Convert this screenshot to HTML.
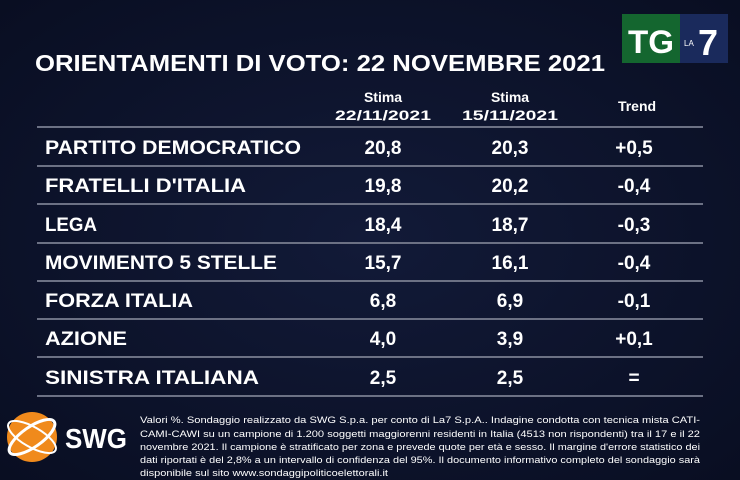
<!DOCTYPE html>
<html><head><meta charset="utf-8"><style>
html,body{margin:0;padding:0;background:#0b1128;}
svg{display:block}
text{font-family:"Liberation Sans",sans-serif;fill:#fff;}
</style></head><body>
<svg width="740" height="480" viewBox="0 0 740 480">
<defs><radialGradient id="bg" cx="0.5" cy="0.5" r="0.7"><stop offset="0" stop-color="#121a38"/><stop offset="1" stop-color="#090e22"/></radialGradient></defs>
<rect width="740" height="480" fill="url(#bg)"/>
<rect x="622" y="14" width="58" height="49" fill="#14662f"/>
<rect x="680" y="14" width="48" height="49" fill="#1a2a5c"/>
<text x="651" y="53" font-size="32" font-weight="bold" text-anchor="middle" textLength="46" lengthAdjust="spacingAndGlyphs">TG</text>
<text x="684" y="46" font-size="8">LA</text>
<text x="708" y="55" font-size="36" font-weight="bold" text-anchor="middle">7</text>
<text x="35" y="71" font-size="23" font-weight="bold" textLength="570" lengthAdjust="spacingAndGlyphs">ORIENTAMENTI DI VOTO: 22 NOVEMBRE 2021</text>
<g font-size="14" font-weight="bold" text-anchor="middle">
<text x="383" y="102">Stima</text><text x="383" y="120" textLength="96" lengthAdjust="spacingAndGlyphs">22/11/2021</text>
<text x="510" y="102">Stima</text><text x="510" y="120" textLength="96" lengthAdjust="spacingAndGlyphs">15/11/2021</text>
<text x="637" y="111">Trend</text>
</g>
<g stroke="#6c7184" stroke-width="2">
<line x1="37" y1="127" x2="703" y2="127"/>
<line x1="37" y1="166" x2="703" y2="166"/>
<line x1="37" y1="204" x2="703" y2="204"/>
<line x1="37" y1="243" x2="703" y2="243"/>
<line x1="37" y1="281" x2="703" y2="281"/>
<line x1="37" y1="319" x2="703" y2="319"/>
<line x1="37" y1="357" x2="703" y2="357"/>
<line x1="37" y1="396" x2="703" y2="396"/>
</g>
<g font-size="19" font-weight="bold">
<text x="45" y="154" textLength="256" lengthAdjust="spacingAndGlyphs">PARTITO DEMOCRATICO</text>
<text x="45" y="192" textLength="201" lengthAdjust="spacingAndGlyphs">FRATELLI D'ITALIA</text>
<text x="45" y="231" textLength="52" lengthAdjust="spacingAndGlyphs">LEGA</text>
<text x="45" y="269" textLength="232" lengthAdjust="spacingAndGlyphs">MOVIMENTO 5 STELLE</text>
<text x="45" y="307" textLength="148" lengthAdjust="spacingAndGlyphs">FORZA ITALIA</text>
<text x="45" y="345" textLength="82" lengthAdjust="spacingAndGlyphs">AZIONE</text>
<text x="45" y="384" textLength="214" lengthAdjust="spacingAndGlyphs">SINISTRA ITALIANA</text>
</g>
<g font-size="19" font-weight="bold" text-anchor="middle">
<text x="383" y="154">20,8</text><text x="510" y="154">20,3</text><text x="634" y="154">+0,5</text>
<text x="383" y="192">19,8</text><text x="510" y="192">20,2</text><text x="634" y="192">-0,4</text>
<text x="383" y="231">18,4</text><text x="510" y="231">18,7</text><text x="634" y="231">-0,3</text>
<text x="383" y="269">15,7</text><text x="510" y="269">16,1</text><text x="634" y="269">-0,4</text>
<text x="383" y="307">6,8</text><text x="510" y="307">6,9</text><text x="634" y="307">-0,1</text>
<text x="383" y="345">4,0</text><text x="510" y="345">3,9</text><text x="634" y="345">+0,1</text>
<text x="383" y="384">2,5</text><text x="510" y="384">2,5</text><text x="634" y="384">=</text>
</g>
<circle cx="32" cy="437" r="25" fill="#f08a1c"/>
<ellipse cx="32" cy="437" rx="27" ry="10" fill="none" stroke="#fff" stroke-width="3" transform="rotate(-35 32 437)"/>
<ellipse cx="32" cy="437" rx="27" ry="10" fill="none" stroke="#fff" stroke-width="2" transform="rotate(30 32 437)"/>
<text x="65" y="448" font-size="28" font-weight="bold" textLength="62" lengthAdjust="spacingAndGlyphs">SWG</text>
<g font-size="9.5" fill="#e6e6e6">
<text x="140" y="423" textLength="560" lengthAdjust="spacingAndGlyphs">Valori %. Sondaggio realizzato da SWG S.p.a. per conto di La7 S.p.A.. Indagine condotta con tecnica mista CATI-</text>
<text x="140" y="437" textLength="560" lengthAdjust="spacingAndGlyphs">CAMI-CAWI su un campione di 1.200 soggetti maggiorenni residenti in Italia (4513 non rispondenti) tra il 17 e il 22</text>
<text x="140" y="450" textLength="560" lengthAdjust="spacingAndGlyphs">novembre 2021. Il campione è stratificato per zona e prevede quote per età e sesso. Il margine d'errore statistico dei</text>
<text x="140" y="463" textLength="560" lengthAdjust="spacingAndGlyphs">dati riportati è del 2,8% a un intervallo di confidenza del 95%. Il documento informativo completo del sondaggio sarà</text>
<text x="140" y="476" textLength="248" lengthAdjust="spacingAndGlyphs">disponibile sul sito www.sondaggipoliticoelettorali.it</text>
</g>
</svg>
</body></html>
